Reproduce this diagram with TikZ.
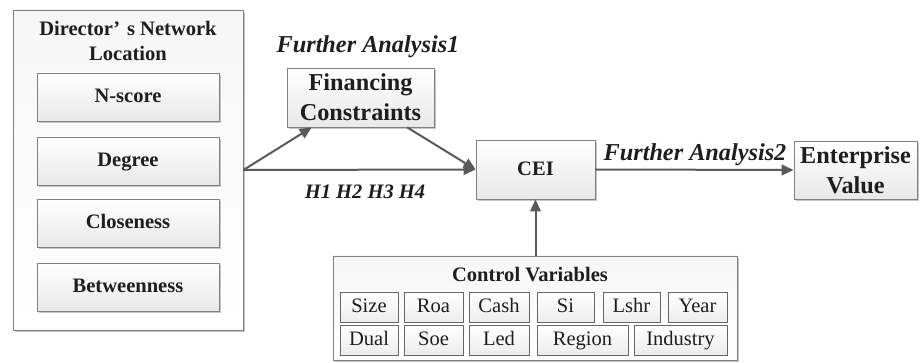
\documentclass[tikz,border=0pt]{standalone}
\usepackage{fontspec}
\setmainfont{Liberation Serif}
\usetikzlibrary{shadows,calc,arrows.meta}
\definecolor{linec}{HTML}{5A5A5A}
\definecolor{boxc}{HTML}{7F7F7F}
\definecolor{txtc}{HTML}{1E1E1E}
\tikzset{
  box/.style={draw=boxc, line width=0.6pt, top color=white, bottom color=gray!18,
    text=txtc, inner sep=0pt, align=center,
    drop shadow={shadow xshift=1.3pt, shadow yshift=-1.3pt, fill=gray!45, opacity=1}},
  oneline/.style={text height=11.5pt, text depth=2.5pt},
  bigbox/.style={draw=boxc, line width=0.6pt, top color=gray!7, bottom color=white,
    inner sep=0pt,
    drop shadow={shadow xshift=1.3pt, shadow yshift=-1.3pt, fill=gray!45, opacity=1}},
  smallbox/.style={draw=boxc!80!black, line width=0.6pt, top color=white, bottom color=gray!15,
    text=txtc, inner sep=0pt, minimum height=22.5pt, text height=11.5pt, text depth=2.5pt,
    font=\fontsize{15.4pt}{18pt}\selectfont,
    drop shadow={shadow xshift=1pt, shadow yshift=-1pt, fill=gray!40, opacity=1}},
  arr/.style={draw=linec, line width=1.5pt, -{Triangle[length=9pt,width=8pt]}},
  lbl/.style={text=txtc, inner sep=0pt, font=\fontsize{18.2pt}{22pt}\selectfont\bfseries\itshape},
  midf/.style={font=\fontsize{15.4pt}{18.75pt}\selectfont\bfseries},
  bigf/.style={font=\fontsize{18.2pt}{22.5pt}\selectfont\bfseries},
}
\begin{document}
\begin{tikzpicture}[x=0.75pt,y=-0.75pt]
\useasboundingbox (0,0) rectangle (922,363);
% left group
\node[bigbox, minimum width=172.5pt, minimum height=240pt] (outer) at (128,170) {};
\node[midf, text=txtc, align=center, inner sep=0pt] (title) at (128,40.5) {Director’\,\,s Network\\Location};
\node[box, oneline, midf, minimum width=136.5pt, minimum height=36pt] (nscore) at (128,97) {N-score};
\node[box, oneline, midf, minimum width=136.5pt, minimum height=36pt] (degree) at (128,161) {Degree};
\node[box, oneline, midf, minimum width=136.5pt, minimum height=36pt] (close) at (128,223) {Closeness};
\node[box, oneline, midf, minimum width=136.5pt, minimum height=36pt] (betw) at (128,287) {Betweenness};
% middle
\node[box, bigf, minimum width=110.25pt, minimum height=44.25pt] (fc) at (360.5,97.5) {Financing\\Constraints};
\node[lbl] (fa1) at (368,47) {Further Analysis1};
\node[box, oneline, midf, minimum width=89.25pt, minimum height=44.25pt] (cei) at (535.5,169.5) {CEI};
\node[box, bigf, minimum width=92.25pt, minimum height=43.5pt] (ev) at (855.5,170) {Enterprise\\Value};
\node[lbl] (fa2) at (695,155) {Further Analysis2};
\node[lbl, font=\fontsize{15.4pt}{18pt}\selectfont\bfseries\itshape] (h) at (365,192) {H1 H2 H3 H4};
% control variables
\node[bigbox, minimum width=303pt, minimum height=78pt] (ctrl) at (535,308) {};
\node[midf, text=txtc, inner sep=0pt] (ctitle) at (530,275) {Control Variables};
\node[smallbox, minimum width=43.5pt] (size) at (369,307) {Size};
\node[smallbox, minimum width=44.25pt] (roa) at (433.5,307) {Roa};
\node[smallbox, minimum width=45pt] (cash) at (499,307) {Cash};
\node[smallbox, minimum width=42.75pt] (si) at (565.5,307) {Si};
\node[smallbox, minimum width=42.75pt] (lshr) at (631.5,307) {Lshr};
\node[smallbox, minimum width=44.25pt] (year) at (697.5,307) {Year};
\node[smallbox, minimum width=43.5pt] (dual) at (369,340) {Dual};
\node[smallbox, minimum width=44.25pt] (soe) at (433.5,340) {Soe};
\node[smallbox, minimum width=45pt] (led) at (499,340) {Led};
\node[smallbox, minimum width=68.25pt] (region) at (582.5,340) {Region};
\node[smallbox, minimum width=69.75pt] (industry) at (680.5,340) {Industry};
% connectors
\draw[arr] (outer.east) -- ($(fc.south west)!0.17!(fc.south east)$);
\draw[arr] ($(fc.south west)!0.816!(fc.south east)$) -- (cei.west);
\draw[arr] (outer.east) -- (cei.west);
\draw[arr] (cei.east) -- (ev.west);
\draw[arr] (ctrl.north -| cei.south) -- (cei.south);
\end{tikzpicture}
\end{document}
